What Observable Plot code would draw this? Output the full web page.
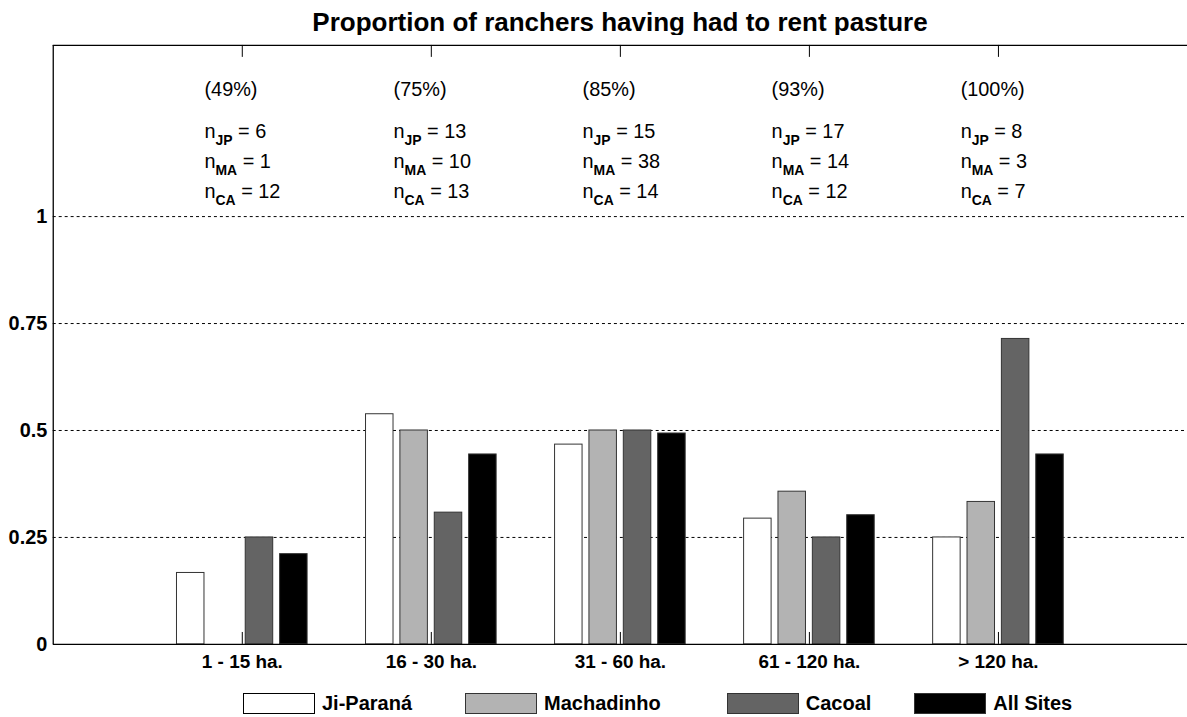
<!DOCTYPE html>
<html><head><meta charset="utf-8">
<script src="https://cdn.jsdelivr.net/npm/d3@7"></script>
<script src="https://cdn.jsdelivr.net/npm/@observablehq/plot@0.6"></script>
<style>
body{margin:0;background:#fff;}
#wrap{position:relative;width:1187px;height:717px;overflow:hidden;font-family:"Liberation Sans",Arial,Helvetica,sans-serif;color:#000;background:#fff;}
#title{position:absolute;left:53px;width:1134px;top:8px;text-align:center;font-weight:bold;font-size:26px;line-height:28px;}
#chart{position:absolute;left:0;top:35px;}
#legend{position:absolute;left:243px;top:693px;display:flex;align-items:center;font-weight:bold;font-size:20px;line-height:21px;}
.item{display:flex;align-items:center;gap:7px;}
.sw{width:70px;height:19px;border:1px solid #000;}
</style></head><body>
<div id="wrap">
  <div id="title">Proportion of ranchers having had to rent pasture</div>
  <div id="chart"></div>
  <div id="legend"></div>
</div>
<script>
// ---- data ----
const categories = ["1 - 15 ha.", "16 - 30 ha.", "31 - 60 ha.", "61 - 120 ha.", "> 120 ha."];
const series = ["Ji-Paraná", "Machadinho", "Cacoal", "All Sites"];
const jiParana   = [0.167, 0.538, 0.467, 0.294, 0.250];
const machadinho = [0.000, 0.500, 0.500, 0.357, 0.333];
const cacoal     = [0.250, 0.308, 0.500, 0.250, 0.714];
const allSites   = [0.211, 0.444, 0.493, 0.302, 0.444];
const percents = ["(49%)", "(75%)", "(85%)", "(93%)", "(100%)"];
const nJP = [6, 13, 15, 17, 8];
const nMA = [1, 10, 38, 14, 3];
const nCA = [12, 13, 14, 12, 7];
const yTicks = [0, 0.25, 0.5, 0.75, 1];
const colors = ["#ffffff", "#b3b3b3", "#646464", "#000000"];

const values = [jiParana, machadinho, cacoal, allSites];
const data = categories.flatMap((c, gi) => series.map((s, si) => ({category: c, group: gi + 1, series: s, si, value: values[si][gi]})));
const positions = categories.map((c, i) => i + 1);

const groupWidth = Math.min(0.8, series.length / (series.length + 1.5));
const barW = 0.8 * groupWidth / series.length;
const off = si => (si - (series.length - 1) / 2) * groupWidth / series.length;

const W = 1193, H = 647, mT = 10, mB = 35, tick = 12;
const frameH = H - mT - mB;
const font = "'Liberation Sans', Arial, Helvetica, sans-serif";
const annot = {frameAnchor: "top", dx: -38, textAnchor: "start", fontSize: 20, fill: "#000"};
const plot = Plot.plot({
  width: W, height: H,
  marginLeft: 53, marginRight: 0, marginTop: mT, marginBottom: mB,
  style: {fontFamily: font, background: "white", color: "#000"},
  x: {type: "linear", domain: [0, series.length + 2]},
  y: {domain: [0, 1.4]},
  color: {domain: series, range: colors},
  marks: [
    Plot.ruleY(yTicks.filter(d => d > 0), {stroke: "#000", strokeDasharray: "3,3", strokeWidth: 1}),
    // inward tick marks at the bottom and top of the frame
    Plot.ruleX(positions, {x: d => d, insetTop: frameH - tick, stroke: "#000", strokeWidth: 1}),
    Plot.ruleX(positions, {x: d => d, insetBottom: frameH - tick, stroke: "#000", strokeWidth: 1}),
    Plot.rect(data, {
      x1: d => d.group + off(d.si) - barW / 2,
      x2: d => d.group + off(d.si) + barW / 2,
      y1: 0, y2: "value", fill: "series", stroke: "#333", strokeWidth: 1
    }),
    Plot.ruleY([0], {stroke: "#000", strokeWidth: 1.3}),
    Plot.ruleY([1.4], {stroke: "#000", strokeWidth: 1.3}),
    Plot.ruleX([0], {stroke: "#000", strokeWidth: 1.3}),
    Plot.axisX({anchor: "bottom", ticks: positions, tickSize: 0, tickPadding: 10, tickFormat: i => categories[i - 1], fontSize: 19, fontWeight: "bold", fill: "#000", label: null}),
    Plot.axisY({ticks: yTicks, tickSize: 0, tickPadding: 6, tickFormat: d => String(d), fontSize: 20, fontWeight: "bold", fill: "#000", label: null}),
    Plot.text(percents, {x: (d, i) => i + 1, dy: 37, ...annot}),
    Plot.text(nJP, {x: (d, i) => i + 1, text: d => "n_JP = " + d, dy: 79, ...annot}),
    Plot.text(nMA, {x: (d, i) => i + 1, text: d => "n_MA = " + d, dy: 109, ...annot}),
    Plot.text(nCA, {x: (d, i) => i + 1, text: d => "n_CA = " + d, dy: 139, ...annot})
  ]
});

// subscripts
d3.select(plot).selectAll("text").each(function() {
  const t = this.textContent;
  const m = t.match(/^n_([A-Z]+)( = .*)$/);
  if (!m) return;
  const sel = d3.select(this);
  sel.text(null);
  sel.append("tspan").text("n");
  sel.append("tspan").attr("dy", 7).attr("font-size", 14).attr("font-weight", "bold").text(m[1]);
  sel.append("tspan").attr("dy", -7).text(m[2]);
});

document.getElementById("chart").appendChild(plot);

// legend
const legendGaps = [53, 66, 43, 0];
const legend = d3.select("#legend");
series.forEach((s, i) => {
  const it = legend.append("div").attr("class", "item").style("margin-right", legendGaps[i] + "px");
  it.append("div").attr("class", "sw").style("background", colors[i]).style("border-color", i === 0 ? "#000" : "#333");
  it.append("span").text(s);
});
</script>
</body></html>
